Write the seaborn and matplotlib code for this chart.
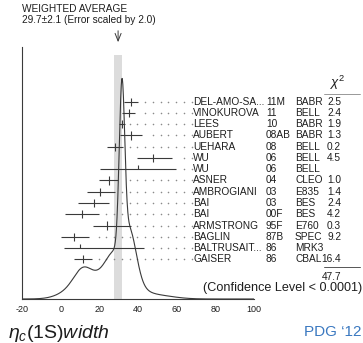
import numpy as np
import pandas as pd
import matplotlib
matplotlib.use("Agg")
import matplotlib.pyplot as plt
import seaborn as sns
from matplotlib import transforms

# ---------------- data ----------------
names = ["DEL-AMO-SA...", "VINOKUROVA", "LEES", "AUBERT", "UEHARA", "WU", "WU",
         "ASNER", "AMBROGIANI", "BAI", "BAI", "ARMSTRONG", "BAGLIN",
         "BALTRUSAIT...", "GAISER"]
years = ["11M", "11", "10", "08AB", "08", "06", "06", "04", "03", "03", "00F",
         "95F", "87B", "86", "86"]
experiments = ["BABR", "BELL", "BABR", "BABR", "BELL", "BELL", "BELL", "CLEO",
               "E835", "BES", "BES", "E760", "SPEC", "MRK3", "CBAL"]
values = [36.4, 35.1, 31.7, 36.3, 28.1, 48.0, 40.0, 24.8, 20.4, 17.0, 11.0,
          23.9, 7.0, 10.1, 11.5]
err_lo = [3.6, 3.3, 1.4, 5.6, 3.9, 8.6, 19.6, 4.8, 6.8, 8.2, 9.0, 7.1, 6.9,
          8.2, 4.5]
err_hi = [3.6, 3.3, 1.4, 5.9, 3.9, 9.5, 19.6, 4.8, 7.9, 8.2, 9.0, 12.6, 7.6,
          33.0, 4.5]
chi2 = ["2.5", "2.4", "1.9", "1.3", "0.2", "4.5", "", "1.0", "1.4", "2.4",
        "4.2", "0.3", "9.2", "", "16.4"]
chi2_total = "47.7"
avg_value = 29.7
avg_err = 2.1
xticks = [-20, 0, 20, 40, 60, 80, 100]

df = pd.DataFrame({"name": names, "year": years, "exp": experiments,
                   "value": values, "lo": err_lo, "hi": err_hi, "chi2": chi2})
n = len(df)
df["row"] = np.arange(n)[::-1]          # top row highest
df["used"] = df["chi2"] != ""

# ---------------- style ----------------
sns.set_theme(style="white")
plt.rcParams["font.family"] = ["Liberation Sans", "DejaVu Sans"]
plt.rcParams["mathtext.fontset"] = "custom"
plt.rcParams["mathtext.rm"] = "Liberation Sans"
plt.rcParams["mathtext.it"] = "Liberation Sans:italic"
plt.rcParams["mathtext.bf"] = "Liberation Sans:bold"

ink = "#3a3a3a"
txt = "#1e1e1e"
fs = 7.3

fig = plt.figure(figsize=(3.63, 3.43), dpi=100)
ax = fig.add_axes([22 / 363, 44 / 343, 232 / 363, 252 / 343])

ybot, ytop = -3.53, 18.86
ax.set_xlim(-20, 100)
ax.set_ylim(ybot, ytop)

# weighted-average band
band_top = (299 - 55) / 252
ax.axvspan(avg_value - avg_err, avg_value + avg_err, ymin=0, ymax=band_top,
           color="#dcdcdc", lw=0, zorder=0)

# ideogram curve (sum of gaussians of used measurements, area ~ 1/sigma)
xs = np.linspace(-20, 100, 1200)
dens = np.zeros_like(xs)
for _, r in df[df["used"]].iterrows():
    s = np.where(xs < r["value"], r["lo"], r["hi"])
    savg = 0.5 * (r["lo"] + r["hi"])
    dens += (1.0 / savg ** 2) * np.exp(-0.5 * ((xs - r["value"]) / s) ** 2)
curve_height = 19.6
curve = ybot + dens / dens.max() * curve_height
sns.lineplot(x=xs, y=curve, ax=ax, color=ink, lw=0.8, zorder=3)

# error bars and leader dots
dot_grid = np.arange(3.7, 68.0, 4.0)
for _, r in df.iterrows():
    y = r["row"]
    ax.hlines(y, r["value"] - r["lo"], r["value"] + r["hi"], color=ink, lw=0.8,
              zorder=4)
    if r["used"]:
        ax.vlines(r["value"], y - 0.36, y + 0.36, color=ink, lw=0.8, zorder=4)
    else:
        ax.vlines(r["value"], y, y + 0.36, color=ink, lw=0.8, zorder=4)
    dots = dot_grid[dot_grid > r["value"] + r["hi"] + 2.5]
    ax.scatter(dots, np.full(len(dots), y), s=1.3, color="#8a8a8a", lw=0,
               zorder=2, clip_on=False)

# axes styling
for sp in ["top", "right"]:
    ax.spines[sp].set_visible(False)
for sp in ["left", "bottom"]:
    ax.spines[sp].set_color(ink)
    ax.spines[sp].set_linewidth(0.8)
ax.set_xticks(xticks)
ax.set_xticklabels([str(t) for t in xticks], fontsize=6.5, color=txt)
ax.tick_params(axis="x", direction="in", length=5, width=0.8, color=ink, pad=4)
ax.set_yticks([])
ax.grid(False)

# row text columns
tr = transforms.blended_transform_factory(fig.transFigure, ax.transData)
for _, r in df.iterrows():
    y = r["row"]
    ax.text(193 / 363, y, r["name"], transform=tr, fontsize=fs, va="center",
            ha="left", color=txt, clip_on=False)
    ax.text(266 / 363, y, r["year"], transform=tr, fontsize=fs, va="center",
            ha="left", color=txt, clip_on=False)
    ax.text(295 / 363, y, r["exp"], transform=tr, fontsize=fs, va="center",
            ha="left", color=txt, clip_on=False)
    if r["chi2"]:
        ax.text(341 / 363, y, r["chi2"], transform=tr, fontsize=fs,
                va="center", ha="right", color=txt, clip_on=False)

# chi2 header, underline, total
ax.text(338 / 363, 15.7, r"$\chi^2$", transform=tr, fontsize=9.5, ha="center",
        va="center", color=txt)
ax.plot([324 / 363, 360 / 363], [14.68, 14.68], transform=tr, color="#888888",
        lw=0.6, clip_on=False)
ax.plot([324 / 363, 360 / 363], [-0.66, -0.66], transform=tr, color="#555555",
        lw=0.7, clip_on=False)
ax.text(341 / 363, -1.58, chi2_total, transform=tr, fontsize=fs, ha="right",
        va="center", color=txt)
ax.text(362.5 / 363, -2.55, "(Confidence Level < 0.0001)", transform=tr,
        fontsize=9.1, ha="right", va="center", color=txt)

# arrow and header text
ax.annotate("", xy=(avg_value, (299 - 45) / 252),
            xycoords=("data", "axes fraction"),
            xytext=(avg_value, (299 - 28) / 252),
            textcoords=("data", "axes fraction"),
            arrowprops=dict(arrowstyle="->,head_width=0.18,head_length=0.45",
                            lw=0.7, color=ink))
fig.text(22 / 363, 1 - 8.5 / 343, "WEIGHTED AVERAGE", fontsize=fs,
         va="center", ha="left", color=txt)
fig.text(22 / 363, 1 - 20 / 343,
         f"{avg_value}\u00b1{avg_err} (Error scaled by 2.0)", fontsize=fs,
         va="center", ha="left", color=txt)

# bottom labels
fig.text(8 / 363, 1 - 333 / 343, r"$\eta_c(\mathrm{1S})width$", fontsize=14,
         va="center", ha="left", color=txt)
fig.text(362 / 363, 1 - 332 / 343, "PDG \u201812", fontsize=11, va="center",
         ha="right", color="#3a78c0")

fig.savefig("out.png", dpi=100)
